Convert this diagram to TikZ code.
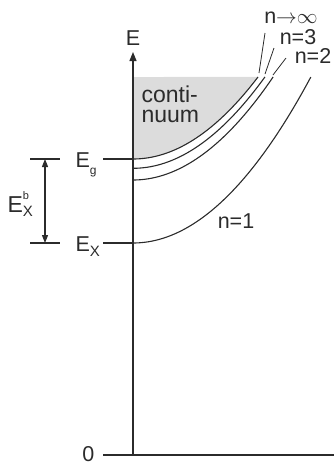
\documentclass[tikz,border=0pt]{standalone}
\usepackage{fontspec}
\setmainfont{Liberation Sans}
\usetikzlibrary{arrows.meta}
\definecolor{ink}{HTML}{2B2B2B}
\definecolor{contfill}{HTML}{DCDCDC}
\begin{document}
\begin{tikzpicture}[x=1pt,y=-1pt,line width=1.1pt,
  lbl/.style={inner sep=0pt,text=ink,font=\fontsize{21.5}{21.5}\selectfont},
  curve/.style={draw=ink,line width=1.1pt},
  axis/.style={draw=ink,line width=1.2pt},
  tick/.style={draw=ink,line width=1.1pt},
  leader/.style={draw=ink,line width=0.8pt},
  tip/.style={-{Triangle[length=9pt,width=7pt]}}]
\useasboundingbox (0,0) rectangle (334,464);
% continuum shading
\fill[fill=contfill] plot[domain=0:125,samples=60] ({133+\x},{159-0.00525*\x*\x}) -- (133,77) -- cycle;
% curves
\draw[curve] plot[domain=0:125,samples=60] ({133+\x},{159-0.00525*\x*\x}) coordinate (cinf);
\draw[curve] plot[domain=0:131.9,samples=60] ({133+\x},{168.3-0.00525*\x*\x}) coordinate (c3);
\draw[curve] plot[domain=0:140.1,samples=60] ({133+\x},{180-0.00525*\x*\x}) coordinate (c2);
\draw[curve] plot[domain=0:177.8,samples=60] ({133+\x},{243-0.00525*\x*\x}) coordinate (c1);
% axes
\coordinate (o) at (133,455);
\coordinate (ytop) at (133,52);
\coordinate (xl) at (103,455);
\coordinate (xr) at (343,455);
\draw[axis,tip] (o) -- (ytop);
\draw[axis,tip] (xl) -- (xr);
\node[lbl] (lE) at (133,38) {E};
\node[lbl,anchor=east] (l0) at (95,454) {0};
% Eg and Ex ticks
\coordinate (egl) at (103,159); \coordinate (egr) at (133,159);
\coordinate (exl) at (103,243); \coordinate (exr) at (133,243);
\draw[tick] (egl) -- (egr);
\draw[tick] (exl) -- (exr);
\node[lbl,anchor=base west] (lEg) at (75,167) {E\raisebox{-0.35em}{\fontsize{12}{12}\selectfont g}};
\node[lbl,anchor=base west] (lEx) at (75,251) {E\raisebox{-0.25em}{\fontsize{15}{15}\selectfont X}};
% binding energy arrow
\coordinate (bt1) at (30,159); \coordinate (bt2) at (60,159);
\coordinate (bb1) at (30,243); \coordinate (bb2) at (60,243);
\draw[tick] (bt1) -- (bt2);
\draw[tick] (bb1) -- (bb2);
\coordinate (at) at (45,159); \coordinate (ab) at (45,243);
\draw[draw=ink,line width=1.1pt,{Triangle[length=8pt,width=6pt]}-{Triangle[length=8pt,width=6pt]}] (at) -- (ab);
\node[lbl,anchor=base west] (lEb) at (7,212) {\fontsize{23}{23}\selectfont E\makebox[0pt][l]{\raisebox{0.55em}{\fontsize{11}{11}\selectfont b}}\raisebox{-0.2em}{\fontsize{15}{15}\selectfont X}};
% continuum text
\node[lbl,align=left,anchor=north west,font=\fontsize{23}{20}\selectfont] (lc) at (141,85) {conti-\\nuum};
% n labels
\node[lbl] (ln1) at (236,221) {n=1};
\node[lbl] (lninf) at (291,18) {n$\rightarrow$$\infty$};
\node[lbl] (ln3) at (298,37) {n=3};
\node[lbl] (ln2) at (313,56) {n=2};
\coordinate (linfa) at (265,33); \coordinate (linfb) at (259,73);
\coordinate (l3a) at (274,48); \coordinate (l3b) at (265,74);
\coordinate (l2a) at (286,58); \coordinate (l2b) at (273,75);
\draw[leader] (linfa) -- (linfb);
\draw[leader] (l3a) -- (l3b);
\draw[leader] (l2a) -- (l2b);
\end{tikzpicture}
\end{document}
